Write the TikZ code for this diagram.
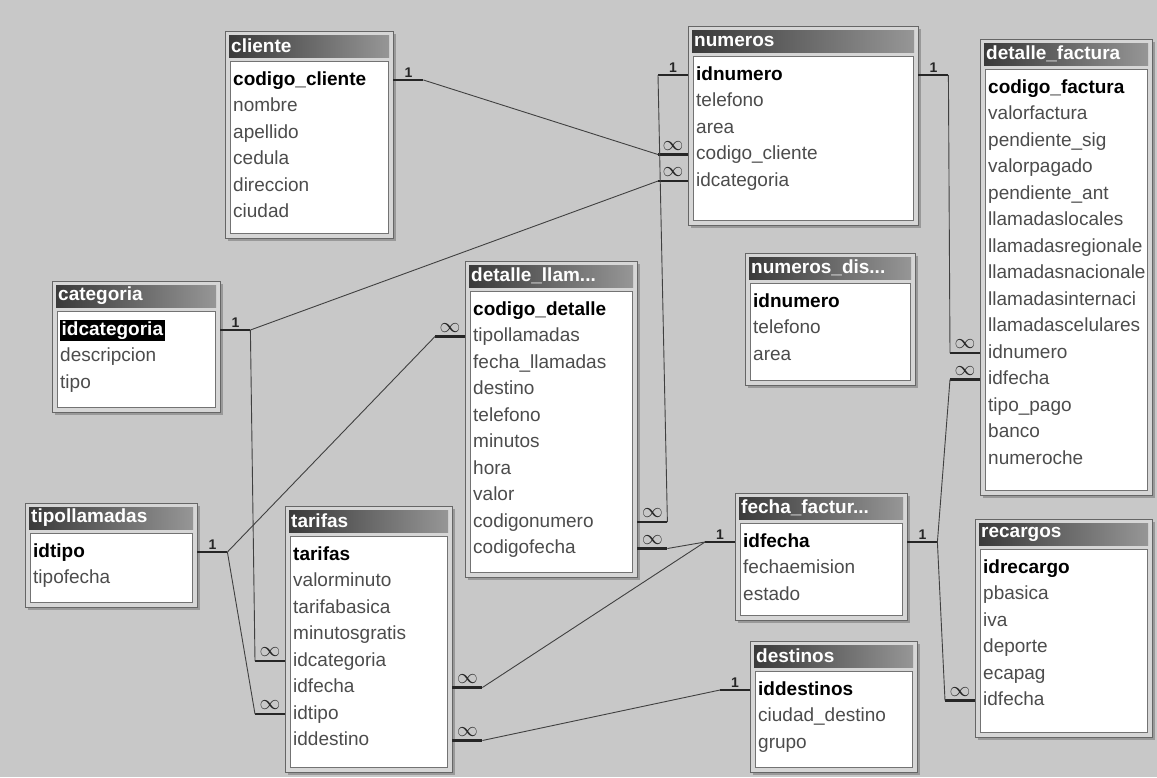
\documentclass[tikz,border=0pt]{standalone}
\usepackage{fontspec}
\setmainfont{Liberation Sans}
\usetikzlibrary{positioning}

\definecolor{bggray}{RGB}{200,200,200}
\definecolor{framegray}{RGB}{214,214,214}
\definecolor{bardark}{RGB}{58,58,58}
\definecolor{barlight}{RGB}{150,150,150}

\tikzset{
  tabshadow/.style={fill=black!40},
  tabframe/.style={draw=black!60, fill=framegray, line width=1pt, inner sep=0pt},
  tabtitle/.style={left color=bardark, right color=barlight},
  tabname/.style={text=white, font=\fontsize{19}{22}\selectfont\bfseries, inner sep=0pt},
  listframe/.style={draw=black!55, fill=white, line width=0.8pt},
  field/.style={font=\fontsize{19}{22}\selectfont, text=black!70, inner xsep=8pt, inner ysep=0pt,
    text height=14pt, text depth=4pt, align=left},
  stub/.style={line width=2.2pt, black!85},
  rel/.style={line width=0.9pt, black!75},
  card/.style={above=1pt, inner sep=0pt, font=\fontsize{14}{14}\selectfont\bfseries, text=black!85},
  many/.style={above=3pt, inner sep=0pt, font=\fontsize{21}{21}\selectfont, text=black!85},
}

% highlighted key field
\newcommand\hlkey[1]{{\setlength\fboxsep{1.5pt}\colorbox{black}{\color{white}#1}}}

% id, left, top, width, height, title, fields
\newcommand\dbtable[7]{%
  \pgfmathsetmacro\tabtw{#4-16}
  \fill[tabshadow] (#2+3,#3+3) rectangle ++(#4,#5);
  \node[tabframe, minimum width=#4, minimum height=#5, anchor=north west] (#1) at (#2,#3) {};
  \shade[tabtitle] (#2+4,#3+4) rectangle ++(#4-8,22);
  \node[tabname, anchor=west] (#1-t) at (#2+6,#3+15) {#6};
  \filldraw[listframe] (#2+5,#3+30) rectangle (#2+#4-5,#3+#5-5);
  \foreach \f [count=\i] in {#7}
    \node[field, text width=\tabtw pt, anchor=west] (#1-\i) at (#2,#3+49+\i*26.5-26.5)
      {\ifnum\i=1 \bfseries\color{black}\fi\f};
}

\begin{document}
\begin{tikzpicture}[x=1pt,y=-1pt]
  \fill[bggray] (0,0) rectangle (1157,777);
  \useasboundingbox (0,0) rectangle (1157,777);

  % tables
  \dbtable{cli}{225}{31}{168}{207}{cliente}
    {codigo\_cliente,nombre,apellido,cedula,direccion,ciudad}
  \dbtable{num}{688}{26}{230}{199}{numeros}
    {idnumero,telefono,area,codigo\_cliente,idcategoria}
  \dbtable{df}{980}{39}{172}{456}{detalle\_factura}
    {codigo\_factura,valorfactura,pendiente\_sig,valorpagado,pendiente\_ant,
     llamadaslocales,llamadasregionale,llamadasnacionale,llamadasinternaci,
     llamadascelulares,idnumero,idfecha,tipo\_pago,banco,numeroche}
  \dbtable{cat}{52}{281}{168}{131}{categoria}
    {\hlkey{idcategoria},descripcion,tipo}
  \dbtable{det}{465}{261}{172}{316}{detalle\_llam...}
    {codigo\_detalle,tipollamadas,fecha\_llamadas,destino,telefono,
     minutos,hora,valor,codigonumero,codigofecha}
  \dbtable{nd}{745}{253}{170}{132}{numeros\_dis...}
    {idnumero,telefono,area}
  \dbtable{tip}{25}{503}{172}{104}{tipollamadas}
    {idtipo,tipofecha}
  \dbtable{tar}{285}{506}{167}{266}{tarifas}
    {tarifas,valorminuto,tarifabasica,minutosgratis,idcategoria,idfecha,idtipo,iddestino}
  \dbtable{ff}{735}{493}{172}{127}{fecha\_factur...}
    {idfecha,fechaemision,estado}
  \dbtable{rec}{975}{519}{177}{218}{recargos}
    {idrecargo,pbasica,iva,deporte,ecapag,idfecha}
  \dbtable{des}{750}{641}{167}{131}{destinos}
    {iddestinos,ciudad\_destino,grupo}

  % stubs, one side
  \draw[stub] (cli-1.east) -- node[card] {1} ++(30,0) coordinate (c1);
  \draw[stub] (cat-1.east) -- node[card] {1} ++(30,0) coordinate (k1);
  \draw[stub] (tip-1.east) -- node[card] {1} ++(30,0) coordinate (p1);
  \draw[stub] (num-1.west) -- node[card] {1} ++(-30,0) coordinate (n1w);
  \draw[stub] (num-1.east) -- node[card] {1} ++(30,0) coordinate (n1e);
  \draw[stub] (ff-1.west) -- node[card] {1} ++(-30,0) coordinate (ffw);
  \draw[stub] (ff-1.east) -- node[card] {1} ++(30,0) coordinate (ffe);
  \draw[stub] (des-1.west) -- node[card] {1} ++(-30,0) coordinate (s1);

  % stubs, many side
  \draw[stub] (num-4.west) -- node[many] {$\infty$} ++(-30,0) coordinate (n4);
  \draw[stub] (num-5.west) -- node[many] {$\infty$} ++(-30,0) coordinate (n5);
  \draw[stub] (tar-5.west) -- node[many] {$\infty$} ++(-30,0) coordinate (t5);
  \draw[stub] (tar-7.west) -- node[many] {$\infty$} ++(-30,0) coordinate (t7);
  \draw[stub] (det-2.west) -- node[many] {$\infty$} ++(-30,0) coordinate (d2);
  \draw[stub] (det-9.east) -- node[many] {$\infty$} ++(30,0) coordinate (d9);
  \draw[stub] (det-10.east) -- node[many] {$\infty$} ++(30,0) coordinate (d10);
  \draw[stub] (tar-6.east) -- node[many] {$\infty$} ++(30,0) coordinate (t6);
  \draw[stub] (tar-8.east) -- node[many] {$\infty$} ++(30,0) coordinate (t8);
  \draw[stub] (df-11.west) -- node[many] {$\infty$} ++(-30,0) coordinate (f11);
  \draw[stub] (df-12.west) -- node[many] {$\infty$} ++(-30,0) coordinate (f12);
  \draw[stub] (rec-6.west) -- node[many] {$\infty$} ++(-30,0) coordinate (r6);

  % relationships
  \draw[rel] (c1) -- (n4);
  \draw[rel] (k1) -- (n5);
  \draw[rel] (k1) -- (t5);
  \draw[rel] (p1) -- (d2);
  \draw[rel] (p1) -- (t7);
  \draw[rel] (n1w) -- (d9);
  \draw[rel] (n1e) -- (f11);
  \draw[rel] (ffw) -- (d10);
  \draw[rel] (ffw) -- (t6);
  \draw[rel] (ffe) -- (f12);
  \draw[rel] (ffe) -- (r6);
  \draw[rel] (s1) -- (t8);
\end{tikzpicture}
\end{document}
